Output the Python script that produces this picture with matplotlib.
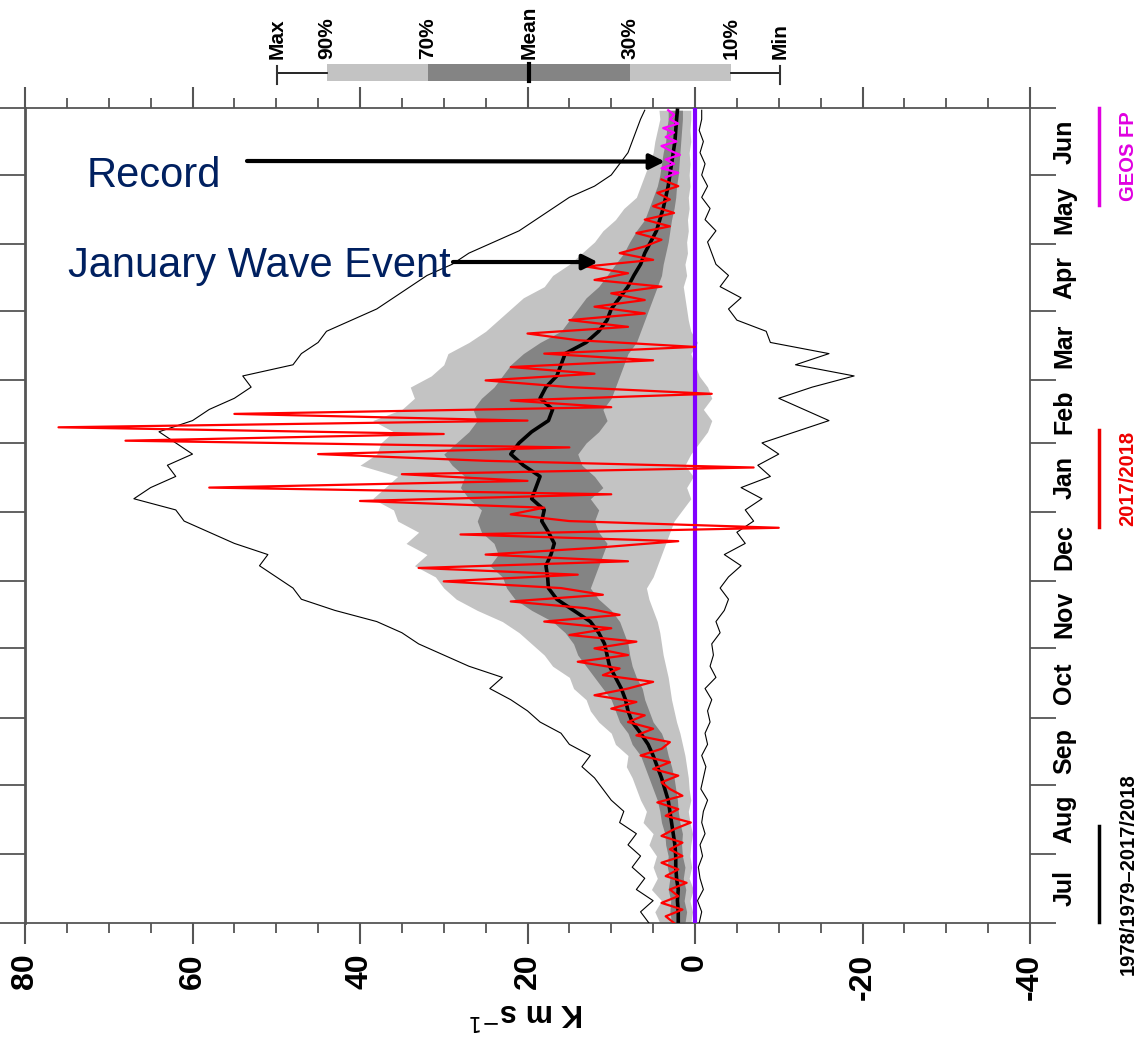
import numpy as np
import matplotlib
matplotlib.use('Agg')
import matplotlib.pyplot as plt
from matplotlib.patches import Rectangle
from matplotlib.lines import Line2D

W, H = 1140, 1038

# ---------------- data ----------------
months = ['Jul', 'Aug', 'Sep', 'Oct', 'Nov', 'Dec', 'Jan', 'Feb', 'Mar', 'Apr', 'May', 'Jun']
month_days = [31, 31, 30, 31, 30, 31, 31, 28, 31, 30, 31, 30]
value_ticks = [80, 60, 40, 20, 0, -20, -40]
legend_keys = ['Max', '90%', '70%', 'Mean', '30%', '10%', 'Min']

# climatology 1978/1979-2017/2018, every 5 days from 1 Jul (last entry 30 Jun)
clim_mean = [2.0, 2.0, 2.1, 2.0, 2.2, 2.3, 2.3,
             2.4, 2.6, 2.8, 3.0, 3.2, 3.6,
             4.0, 4.5, 5.0, 5.6, 6.5, 7.5,
             8.0, 8.3, 8.8, 9.5, 10.2, 10.5,
             10.8, 11.5, 12.5, 14.5, 16.5, 17.5,
             17.6, 17.8, 17.2, 16.8, 17.5, 18.3,
             18.0, 19.5, 19.0, 18.5, 20.5, 22.0,
             21.0, 19.5, 17.5, 17.0, 18.5, 17.8,
             16.5, 16.0, 15.5, 13.0, 11.5, 10.5,
             10.0, 9.0, 8.0, 7.3, 6.5, 6.0,
             5.3, 4.6, 4.2, 3.8, 3.5, 3.2,
             3.0, 2.8, 2.6, 2.4, 2.3, 2.2, 2.1]
clim_p90 = [4.2, 4.8, 4.0, 5.2, 4.5, 5.0, 4.6,
            5.5, 5.0, 6.2, 5.8, 6.5, 7.0,
            7.5, 8.2, 8.0, 9.5, 10.0, 11.5,
            12.5, 13.0, 14.5, 15.0, 17.0, 18.0,
            19.5, 21.0, 23.0, 26.0, 28.5, 30.0,
            31.0, 33.5, 32.0, 34.5, 33.0, 35.5,
            36.0, 38.5, 37.0, 35.5, 40.0, 38.0,
            37.5, 36.0, 38.5, 35.0, 33.5, 34.0,
            31.5, 30.0, 29.5, 27.0, 25.0, 23.5,
            22.0, 20.5, 18.0, 17.0, 15.0, 13.5,
            12.0, 11.0, 9.5, 8.5, 7.0, 6.5,
            6.0, 5.5, 5.0, 4.8, 4.5, 4.2, 4.3]
clim_p70 = [2.8, 3.0, 2.9, 3.2, 3.0, 3.3, 3.2,
            3.5, 3.6, 4.0, 4.2, 4.5, 5.0,
            5.5, 6.0, 6.5, 7.5, 8.0, 9.0,
            9.5, 10.0, 11.0, 12.0, 13.0, 14.0,
            14.5, 15.5, 17.0, 19.5, 21.5, 22.5,
            23.0, 24.5, 23.5, 24.0, 25.5, 26.0,
            25.5, 27.0, 28.0, 27.5, 29.0, 30.0,
            28.5, 27.0, 26.0, 26.5, 25.5, 24.0,
            23.0, 22.0, 20.5, 18.5, 16.0, 15.0,
            14.0, 13.0, 11.5, 10.5, 9.5, 8.5,
            7.8, 7.0, 6.0, 5.5, 5.0, 4.5,
            4.2, 4.0, 3.8, 3.5, 3.4, 3.2, 3.2]
clim_p30 = [1.2, 1.0, 1.3, 1.1, 1.4, 1.2, 1.5,
            1.6, 1.5, 1.8, 2.0, 2.1, 2.3,
            2.5, 2.8, 3.2, 3.5, 4.0, 5.0,
            5.5, 6.0, 6.3, 7.0, 7.5, 7.8,
            8.0, 8.5, 9.0, 10.0, 11.5, 12.5,
            12.0, 11.5, 11.0, 10.5, 11.5, 12.0,
            11.5, 12.5, 11.0, 12.0, 13.5, 14.0,
            13.0, 11.5, 10.5, 11.0, 10.0, 9.5,
            9.0, 8.5, 8.0, 7.0, 6.5, 6.0,
            5.5, 5.0, 4.5, 4.0, 3.8, 3.5,
            3.2, 3.0, 2.8, 2.5, 2.3, 2.2,
            2.0, 1.9, 1.8, 1.7, 1.6, 1.5, 1.5]
clim_p10 = [0.5, 0.3, 0.6, 0.2, 0.7, 0.4, 0.6,
            0.5, 0.3, 0.6, 0.8, 0.5, 0.7,
            0.8, 1.0, 1.2, 1.5, 1.8, 2.2,
            2.5, 2.8, 3.0, 3.2, 3.5, 3.8,
            4.0, 4.2, 4.5, 5.0, 5.5, 5.8,
            5.0, 4.5, 4.0, 3.5, 3.0, 2.5,
            1.5, 0.5, 1.0, 0.2, 1.2, 0.5,
            -0.5, -1.5, -2.0, -1.0, -2.0, -1.5,
            -0.5, 0.0, 0.5, -0.3, 0.5, 0.8,
            1.0, 1.2, 1.4, 1.0, 1.2, 0.9,
            1.0, 0.8, 0.9, 0.7, 0.8, 0.6,
            0.7, 0.6, 0.7, 0.5, 0.6, 0.5, 0.5]
clim_max = [5.5, 6.5, 5.0, 7.0, 6.0, 7.5, 6.5,
            8.0, 7.0, 9.0, 8.5, 10.0, 11.0,
            12.0, 13.5, 12.5, 15.0, 16.0, 18.5,
            20.0, 22.0, 24.5, 23.0, 27.0, 30.0,
            33.0, 35.0, 38.0, 43.0, 47.0, 48.0,
            50.0, 52.0, 51.0, 55.0, 58.0, 61.0,
            62.0, 67.0, 65.0, 62.0, 63.0, 60.0,
            62.0, 64.0, 60.0, 58.0, 55.0, 53.0,
            54.0, 48.0, 47.0, 45.0, 44.0, 41.0,
            38.0, 36.0, 34.0, 32.0, 29.0, 27.0,
            24.0, 21.0, 19.0, 17.0, 15.0, 12.0,
            10.0, 9.0, 8.0, 7.5, 7.0, 6.5, 6.0]
clim_min = [-0.5, -0.8, -0.3, -1.0, -0.6, -0.4, -0.9,
            -0.6, -1.2, -0.8, -1.0, -1.5, -0.7,
            -1.0, -1.3, -0.8, -1.5, -1.2, -1.8,
            -1.5, -2.0, -1.2, -2.5, -1.8, -2.2,
            -2.0, -3.0, -2.5, -3.5, -4.0, -3.0,
            -4.0, -5.5, -3.5, -6.0, -5.0, -7.0,
            -6.0, -8.0, -5.5, -9.0, -7.5, -10.0,
            -8.0, -12.0, -16.0, -13.0, -10.0, -14.0,
            -19.0, -12.0, -16.0, -9.0, -8.5, -5.0,
            -4.0, -5.5, -3.0, -4.0, -2.5, -2.0,
            -1.5, -2.5, -1.2, -1.8, -0.8, -1.5,
            -0.8, -1.2, -0.6, -1.0, -0.5, -0.8, -0.8]

# 2017/2018 season, every 3 days from 1 Jul to 30 May
season_1718 = [2.5, 3.5, 1.5, 4.0, 2.0, 3.0, 1.0, 3.5, 2.0, 4.0, 1.5,
               3.0, 1.5, 4.0, 2.5, 0.5, 3.5, 2.0, 4.5, 1.5, 3.0,
               4.0, 2.0, 5.0, 3.0, 6.5, 4.0, 3.0, 7.0, 5.0, 8.0,
               6.0, 10.0, 7.0, 12.0, 8.0, 5.0, 11.0, 9.0, 14.0, 8.0,
               12.0, 7.0, 15.0, 10.0, 18.0, 9.0, 13.0, 22.0, 11.0, 16.0,
               30.0, 14.0, 33.0, 8.0, 25.0, 12.0, 2.0, 28.0, -10.0, 15.0, 22.0,
               18.0, 40.0, 10.0, 58.0, 20.0, 35.0, -7.0, 25.0, 45.0, 15.0,
               68.0, 30.0, 76.0, 20.0, 55.0, 10.0, 22.0, -2.0, 15.0,
               25.0, 12.0, 22.0, 5.0, 18.0, 0.0, 14.0, 20.0, 8.0, 15.0, 6.0,
               12.0, 6.0, 10.0, 4.0, 12.0, 8.0, 13.0, 5.0, 9.0, 6.0,
               4.0, 7.0, 3.0, 6.0, 2.5, 5.0, 3.0, 4.5, 2.0, 4.0]
# GEOS FP, every 2 days from 31 May
geos_fp = [3.5, 2.0, 4.0, 2.5, 3.5, 1.8, 3.0, 4.0, 2.2, 3.5, 2.5, 3.8, 2.0, 3.0, 2.5, 3.2]

# ---------------- positions ----------------
nclim = len(clim_mean)
clim_days = np.append(np.arange(0, 5 * (nclim - 1), 5), 364)
red_days = np.arange(len(season_1718)) * 3
geos_days = 334 + np.arange(len(geos_fp)) * 2
month_start = np.concatenate([[0], np.cumsum(month_days)])
month_mid = (month_start[:-1] + month_start[1:]) / 2.0

BOLD = ['Liberation Sans', 'DejaVu Sans']
SANS = ['Liberation Sans', 'DejaVu Sans']

fig = plt.figure(figsize=(W / 100, H / 100), dpi=100)
fig.patch.set_facecolor('white')


def fpx(x, y):
    return (x / W, 1 - y / H)


L, R, T, B = 25, 1030, 108, 923
ax = fig.add_axes([L / W, 1 - B / H, (R - L) / W, (B - T) / H])
ax.set_xlim(80, -40)
ax.set_ylim(0, 365)

light = '#c3c3c3'
dark = '#848484'
ax.fill_betweenx(clim_days, clim_p10, clim_p90, color=light, lw=0, zorder=1)
ax.fill_betweenx(clim_days, clim_p30, clim_p70, color=dark, lw=0, zorder=2)
ax.plot(clim_max, clim_days, color='black', lw=0.8, zorder=3)
ax.plot(clim_min, clim_days, color='black', lw=0.8, zorder=3)
ax.plot(clim_mean, clim_days, color='black', lw=2.6, zorder=4)
ax.axvline(0, color='#8000ff', lw=3, zorder=5)
ax.plot(season_1718, red_days, color='#ff0000', lw=1.6, zorder=6)
ax.plot(geos_fp, geos_days, color='#ff00ff', lw=1.6, zorder=6)

# axes styling
for s in ax.spines.values():
    s.set_color('#555555')
    s.set_linewidth(1.3)
ax.spines['left'].set_linewidth(2)

ax.set_xticks(value_ticks)
ax.set_xticks(np.arange(-40, 81, 5), minor=True)
ax.set_xticklabels([str(v) for v in value_ticks], rotation=90,
                   fontfamily=BOLD, fontweight='bold', fontsize=23)
ax.tick_params(axis='x', which='major', direction='out', length=15, width=1.5,
               color='#555555', top=True, bottom=True, pad=7)
ax.tick_params(axis='x', which='minor', direction='out', length=7, width=1.3,
               color='#555555', top=True, bottom=True)

ax.set_yticks(month_start)
ax.set_yticklabels([])
ax.set_yticks(month_mid, minor=True)
ax.set_yticklabels(months, minor=True, rotation=90, va='center',
                   fontfamily=BOLD, fontweight='bold', fontsize=18)
ax.tick_params(axis='y', which='major', direction='out', length=19, width=1.3,
               color='#555555', left=True, right=True, labelleft=False, labelright=False)
ax.tick_params(axis='y', which='minor', length=0, left=False, right=True,
               labelleft=False, labelright=True, pad=16)

fig.text(*fpx(527, 1012), 'K m s$^{-1}$', rotation=180, ha='center', va='center',
         fontfamily=BOLD, fontweight='bold', fontsize=22)

# ---------------- top legend ----------------
lax = fig.add_axes([250 / W, 1 - 100 / H, 560 / W, 100 / H])
lax.set_xlim(250, 810)
lax.set_ylim(100, 0)
lax.axis('off')
key_x = [277, 327, 428, 529, 630, 731, 780]
yb0, yb1 = 64, 81
ym = (yb0 + yb1) / 2
lax.add_line(Line2D([key_x[0], key_x[1]], [ym, ym], color='black', lw=1.2))
lax.add_line(Line2D([key_x[5], key_x[6]], [ym, ym], color='black', lw=1.2))
lax.add_line(Line2D([key_x[0], key_x[0]], [yb0 + 2, yb1 + 3], color='#333333', lw=1.5))
lax.add_line(Line2D([key_x[6], key_x[6]], [yb0 + 2, yb1 + 3], color='#333333', lw=1.5))
lax.add_patch(Rectangle((key_x[1], yb0), key_x[2] - key_x[1], yb1 - yb0, color=light, lw=0))
lax.add_patch(Rectangle((key_x[2], yb0), key_x[4] - key_x[2], yb1 - yb0, color=dark, lw=0))
lax.add_patch(Rectangle((key_x[4], yb0), key_x[5] - key_x[4], yb1 - yb0, color=light, lw=0))
lax.add_line(Line2D([key_x[3], key_x[3]], [yb0, yb1], color='black', lw=3))
for kx, kt in zip(key_x, legend_keys):
    lax.text(kx, 59, kt, rotation=90, ha='center', va='bottom',
             fontfamily=BOLD, fontweight='bold', fontsize=15)

# ---------------- right legend ----------------
rax = fig.add_axes([1085 / W, 0, 55 / W, 1])
rax.set_xlim(1085, 1140)
rax.set_ylim(H, 0)
rax.axis('off')
entries = [('1978/1979\u20132017/2018', 'black', 826, 922),
           ('2017/2018', '#ee0000', 430, 527),
           ('GEOS FP', '#e000e0', 108, 205)]
for txt, col, y0, y1 in entries:
    rax.add_line(Line2D([1099, 1099], [y0, y1], color=col, lw=2.5))
    rax.text(1128, (y0 + y1) / 2, txt, rotation=90, ha='center', va='center',
             color=col, fontfamily=BOLD, fontweight='bold', fontsize=14.5)

# ---------------- annotations ----------------
navy = '#002060'
arrow_kw = dict(arrowstyle='-|>,head_length=0.9,head_width=0.45', color='black', lw=3,
                shrinkA=0, shrinkB=0)
ax.annotate('', xy=(3.6, 341), xycoords='data',
            xytext=(247, H - 161), textcoords='figure pixels', arrowprops=arrow_kw, zorder=10)
fig.text(*fpx(87, 187), 'Record', ha='left', va='baseline', color=navy,
         fontfamily=SANS, fontsize=30)
ax.annotate('', xy=(11.6, 296), xycoords='data',
            xytext=(453, H - 262), textcoords='figure pixels', arrowprops=arrow_kw, zorder=10)
fig.text(*fpx(451, 277), 'January Wave Event', ha='right', va='baseline', color=navy,
         fontfamily=SANS, fontsize=30)

fig.savefig('out.png', dpi=100, facecolor='white')
